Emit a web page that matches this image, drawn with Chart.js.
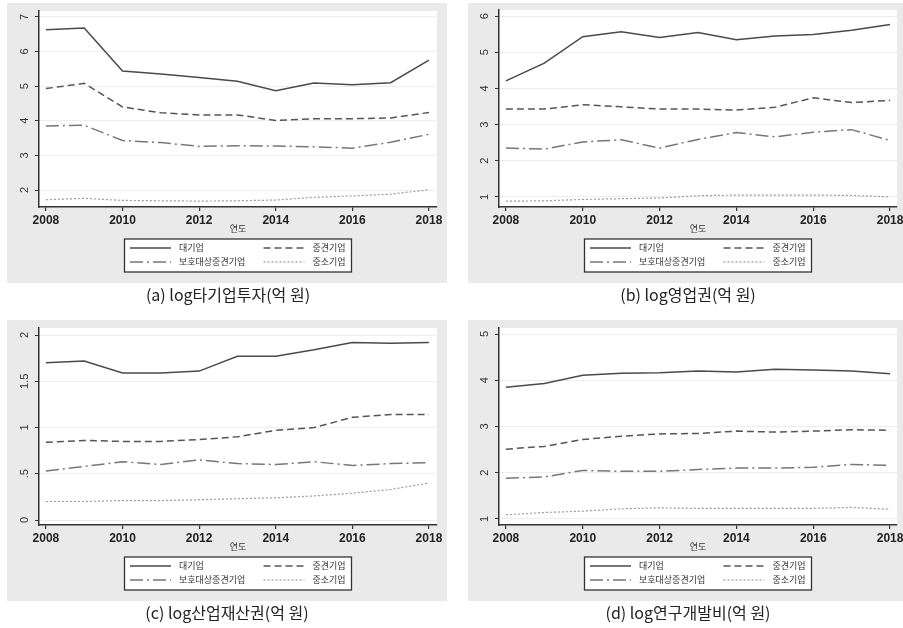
<!DOCTYPE html>
<html>
<head>
<meta charset="utf-8">
<script src="https://cdn.jsdelivr.net/npm/chart.js@4"></script>
<style>
  body { margin: 0; width: 903px; height: 628px; background: #fff; position: relative; overflow: hidden; }
  canvas { position: absolute; background: #eaeaea; }
  .cap { position: absolute; font-family: "Noto Sans CJK KR", "Noto Sans", sans-serif; font-size: 16px; color: #222; transform: translate(-50%, -50%); white-space: nowrap; }
</style>
</head>
<body>
<canvas id="ca" width="440" height="280" style="left:7px;top:3px"></canvas>
<canvas id="cb" width="435" height="280" style="left:468px;top:3px"></canvas>
<canvas id="cc" width="440" height="281" style="left:7px;top:320px"></canvas>
<canvas id="cd" width="435" height="281" style="left:468px;top:320px"></canvas>
<div class="cap" style="left:228px;top:294px">(a) log타기업투자(억 원)</div>
<div class="cap" style="left:688px;top:294px">(b) log영업권(억 원)</div>
<div class="cap" style="left:227px;top:612px">(c) log산업재산권(억 원)</div>
<div class="cap" style="left:688px;top:612px">(d) log연구개발비(억 원)</div>
<script>
// 데이터
const years = [2008, 2009, 2010, 2011, 2012, 2013, 2014, 2015, 2016, 2017, 2018];
const xTicks = [2008, 2010, 2012, 2014, 2016, 2018];
const seriesNames = ["대기업", "중견기업", "보호대상중견기업", "중소기업"];

// (a) log타기업투자
const aLarge = [6.63, 6.68, 5.44, 5.35, 5.25, 5.14, 4.87, 5.09, 5.04, 5.10, 5.75];
const aMid = [4.93, 5.08, 4.40, 4.23, 4.17, 4.17, 4.01, 4.06, 4.06, 4.08, 4.24];
const aProt = [3.85, 3.87, 3.43, 3.37, 3.26, 3.28, 3.27, 3.25, 3.21, 3.38, 3.61];
const aSmall = [1.72, 1.76, 1.70, 1.69, 1.68, 1.69, 1.71, 1.79, 1.83, 1.88, 2.01];
const aTicks = [2, 3, 4, 5, 6, 7];

// (b) log영업권
const bLarge = [4.21, 4.70, 5.43, 5.57, 5.41, 5.55, 5.35, 5.45, 5.49, 5.61, 5.77];
const bMid = [3.43, 3.43, 3.55, 3.49, 3.43, 3.43, 3.40, 3.48, 3.74, 3.61, 3.67];
const bProt = [2.35, 2.32, 2.52, 2.58, 2.35, 2.59, 2.78, 2.66, 2.79, 2.86, 2.56];
const bSmall = [0.88, 0.89, 0.93, 0.95, 0.97, 1.03, 1.05, 1.05, 1.05, 1.04, 1.00];
const bTicks = [1, 2, 3, 4, 5, 6];

// (c) log산업재산권
const cLarge = [1.70, 1.72, 1.59, 1.59, 1.61, 1.77, 1.77, 1.84, 1.92, 1.91, 1.92];
const cMid = [0.84, 0.86, 0.85, 0.85, 0.87, 0.90, 0.97, 1.00, 1.11, 1.14, 1.14];
const cProt = [0.53, 0.58, 0.63, 0.60, 0.65, 0.61, 0.60, 0.63, 0.59, 0.61, 0.62];
const cSmall = [0.20, 0.20, 0.21, 0.21, 0.22, 0.23, 0.24, 0.26, 0.29, 0.33, 0.40];
const cTicks = [0, 0.5, 1, 1.5, 2];

// (d) log연구개발비
const dLarge = [3.85, 3.93, 4.11, 4.15, 4.16, 4.20, 4.18, 4.24, 4.22, 4.20, 4.14];
const dMid = [2.51, 2.57, 2.72, 2.79, 2.84, 2.85, 2.90, 2.88, 2.90, 2.93, 2.92];
const dProt = [1.88, 1.91, 2.05, 2.03, 2.03, 2.07, 2.10, 2.10, 2.12, 2.18, 2.16];
const dSmall = [1.09, 1.14, 1.17, 1.22, 1.24, 1.23, 1.23, 1.23, 1.23, 1.25, 1.21];
const dTicks = [1, 2, 3, 4, 5];

// 선 스타일 (대기업, 중견기업, 보호대상, 중소기업)
const lineStyles = [
  { color: "#4a4a4a", width: 1.5, dash: [] },
  { color: "#555555", width: 1.5, dash: [7, 4] },
  { color: "#777777", width: 1.5, dash: [13, 4, 2, 4] },
  { color: "#9a9a9a", width: 1.2, dash: [2, 2] }
];

function fmtTick(v) {
  return String(v).replace(/^0\./, ".");
}

// 흰색 플롯 영역 + 세로 눈금 라벨 + 범례
const stataPlugin = {
  id: "stata",
  beforeDraw(chart) {
    const a = chart.chartArea, ctx = chart.ctx;
    ctx.save();
    ctx.fillStyle = "#ffffff";
    ctx.fillRect(a.left, a.top, a.right - a.left, a.bottom - a.top);
    ctx.restore();
  },
  afterDraw(chart) {
    const a = chart.chartArea, ctx = chart.ctx;
    const ys = chart.scales.y;
    ctx.save();
    // y 눈금 라벨 (세로)
    ctx.fillStyle = "#333";
    ctx.font = "11px 'Liberation Sans', Arial, sans-serif";
    ctx.textAlign = "center";
    ctx.textBaseline = "middle";
    ys.ticks.forEach(t => {
      const y = ys.getPixelForValue(t.value);
      ctx.save();
      ctx.translate(a.left - 14, y);
      ctx.rotate(-Math.PI / 2);
      ctx.fillText(fmtTick(t.value), 0, 0);
      ctx.restore();
    });
    // x 축 제목
    const cx = (a.left + a.right) / 2;
    ctx.font = "9px 'Noto Sans CJK KR', sans-serif";
    ctx.fillText("연도", cx, a.bottom + 22);
    // 범례
    const top = a.bottom + 32;
    ctx.fillStyle = "#fff";
    ctx.fillRect(cx - 113.5, top, 227, 33);
    ctx.strokeStyle = "#333";
    ctx.lineWidth = 1.3;
    ctx.strokeRect(cx - 113.5, top, 227, 33);
    const pos = [[cx - 108, top + 9], [cx + 25.5, top + 9], [cx - 108, top + 23], [cx + 25.5, top + 23]];
    chart.data.datasets.forEach((ds, i) => {
      const [x, y] = pos[i];
      ctx.beginPath();
      ctx.setLineDash(ds.borderDash || []);
      ctx.strokeStyle = ds.borderColor;
      ctx.lineWidth = ds.borderWidth;
      ctx.moveTo(x, y);
      ctx.lineTo(x + 41, y);
      ctx.stroke();
      ctx.setLineDash([]);
      ctx.fillStyle = "#333";
      ctx.textAlign = "left";
      ctx.fillText(ds.label, x + 49, y);
    });
    ctx.restore();
  }
};

function makeChart(id, seriesList, yTicks, yMin, yMax, xMin, xMax, plotLeft, plotBottom, padRight, padTop) {
  const canvas = document.getElementById(id);
  return new Chart(canvas, {
    type: "line",
    data: {
      datasets: seriesList.map((vals, i) => ({
        label: seriesNames[i],
        data: years.map((y, k) => ({ x: y, y: vals[k] })),
        borderColor: lineStyles[i].color,
        borderWidth: lineStyles[i].width,
        borderDash: lineStyles[i].dash,
        pointRadius: 0,
        tension: 0,
        fill: false
      }))
    },
    options: {
      responsive: false,
      animation: false,
      layout: { padding: { left: 0, right: padRight, top: padTop, bottom: 0 } },
      plugins: { legend: { display: false }, tooltip: { enabled: false } },
      scales: {
        x: {
          type: "linear",
          min: xMin,
          max: xMax,
          afterBuildTicks: axis => { axis.ticks = xTicks.map(v => ({ value: v })); },
          afterFit: axis => { axis.height = canvas.height - plotBottom; axis.paddingLeft = 0; axis.paddingRight = 0; },
          ticks: {
            color: "#222",
            padding: 2,
            maxRotation: 0,
            autoSkip: false,
            font: { family: "'Liberation Sans', Arial, sans-serif", size: 12, weight: "bold" },
            callback: v => String(v)
          },
          grid: { drawOnChartArea: false, drawTicks: true, tickLength: 4, tickColor: "#333", lineWidth: 1.2 },
          border: { display: true, color: "#333", width: 1.5 }
        },
        y: {
          type: "linear",
          min: yMin,
          max: yMax,
          afterBuildTicks: axis => { axis.ticks = yTicks.map(v => ({ value: v })); },
          afterFit: axis => { axis.width = plotLeft; axis.paddingTop = 0; axis.paddingBottom = 0; },
          ticks: { display: false },
          grid: { color: "#eeeeee", lineWidth: 1, drawTicks: true, tickLength: 4, tickColor: "#333" },
          border: { display: true, color: "#333", width: 1.5 }
        }
      }
    },
    plugins: [stataPlugin]
  });
}

makeChart("ca", [aLarge, aMid, aProt, aSmall], aTicks, 1.51, 7.17, 2007.82, 2018.21, 32, 204, 10, 8);
makeChart("cb", [bLarge, bMid, bProt, bSmall], bTicks, 0.72, 6.17, 2007.82, 2018.18, 31, 204, 6, 7);
makeChart("cc", [cLarge, cMid, cProt, cSmall], cTicks, -0.054, 2.076, 2007.82, 2018.21, 32, 205, 10, 8);
makeChart("cd", [dLarge, dMid, dProt, dSmall], dTicks, 0.87, 5.13, 2007.82, 2018.18, 31, 205, 6, 8);
</script>
</body>
</html>
